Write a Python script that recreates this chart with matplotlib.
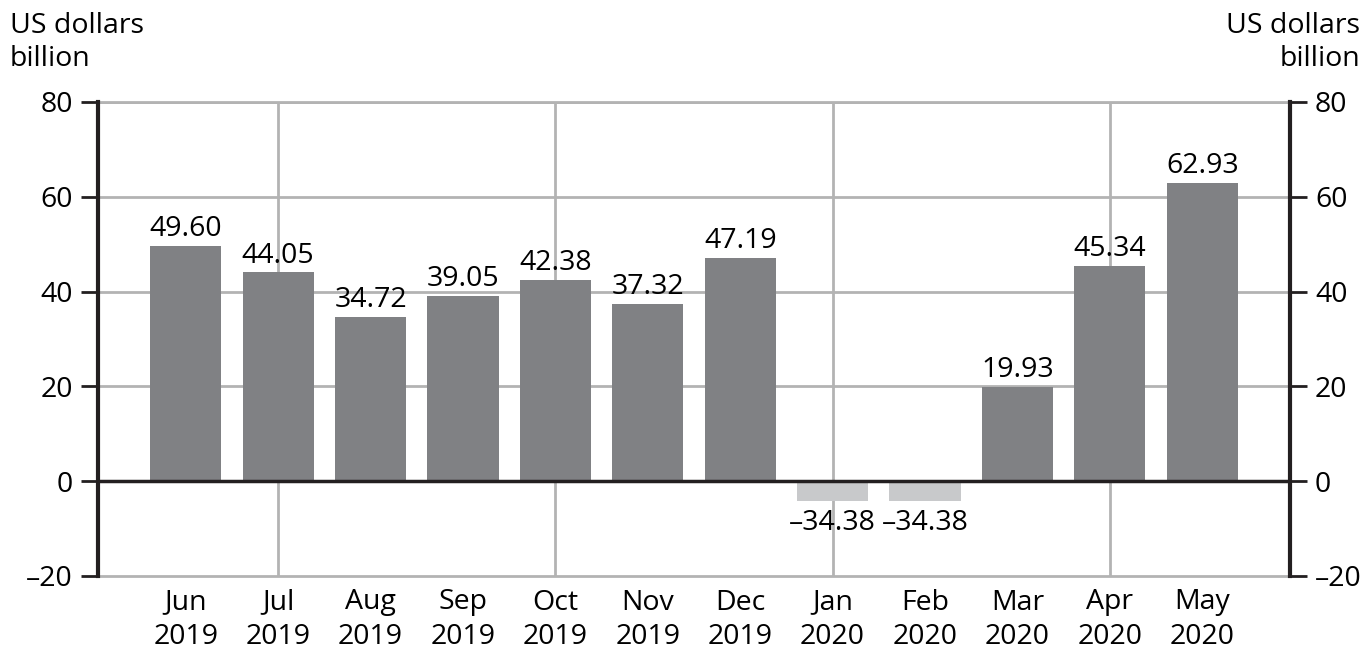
import matplotlib.pyplot as plt
import numpy as np

plt.rcParams['font.family'] = ['Open Sans', 'DejaVu Sans']

months = ['Jun\n2019', 'Jul\n2019', 'Aug\n2019', 'Sep\n2019', 'Oct\n2019', 'Nov\n2019',
          'Dec\n2019', 'Jan\n2020', 'Feb\n2020', 'Mar\n2020', 'Apr\n2020', 'May\n2020']
values = [49.60, 44.05, 34.72, 39.05, 42.38, 37.32, 47.19, -34.38, -34.38, 19.93, 45.34, 62.93]
# the chart truncates the two negative bars
bar_heights = [49.60, 44.05, 34.72, 39.05, 42.38, 37.32, 47.19, -4.2, -4.2, 19.93, 45.34, 62.93]
yticks = [-20, 0, 20, 40, 60, 80]

dark = '#808184'
light = '#c8c9cb'
grid = '#b3b3b3'
fs = 20.5

fig = plt.figure(figsize=(13.67, 6.49), dpi=100)
ax = fig.add_axes([98 / 1367, 1 - 576 / 649, (1290 - 98) / 1367, (576 - 102) / 649])

x = np.arange(len(months))
colors = [dark if v > 0 else light for v in values]
ax.bar(x, bar_heights, width=0.77, color=colors, zorder=3)

for xi, h, v in zip(x, bar_heights, values):
    lab = '%.2f' % v
    lab = lab.replace('-', '\u2013')
    if h >= 0:
        ax.text(xi, h + 0.6, lab, ha='center', va='bottom', fontsize=fs, zorder=4)
    else:
        ax.text(xi, h - 1.6, lab, ha='center', va='top', fontsize=fs, zorder=4)

ax.set_xlim(-0.95, len(months) - 0.05)
ax.set_ylim(-20, 80)

# gridlines
for yv in [20, 40, 60, 80]:
    ax.axhline(yv, color=grid, lw=2, zorder=1)
for xv in [1, 4, 7, 10]:
    ax.axvline(xv, color=grid, lw=2, zorder=1)
ax.axhline(0, color='#231f20', lw=2.5, zorder=5)

for s in ['top', 'bottom']:
    ax.spines[s].set_color(grid)
    ax.spines[s].set_linewidth(2)
for s in ['left', 'right']:
    ax.spines[s].set_color('#231f20')
    ax.spines[s].set_linewidth(3)
    ax.spines[s].set_zorder(6)

ax.set_yticks(yticks)
ax.set_yticklabels([str(t).replace('-', '\u2013') for t in yticks])
ax.tick_params(axis='y', which='both', direction='out', length=12, width=2,
               labelsize=fs, left=True, right=True, labelleft=True, labelright=True,
               color='#231f20', pad=6)
ax.set_xticks(x)
ax.set_xticklabels(months, linespacing=1.3)
ax.tick_params(axis='x', length=0, labelsize=fs, pad=9)

fig.text(10 / 1367, 1 - 12 / 649, 'US dollars\nbillion', ha='left', va='top', fontsize=fs,
         linespacing=1.25)
fig.text(1360 / 1367, 1 - 12 / 649, 'US dollars\nbillion', ha='right', va='top', fontsize=fs,
         linespacing=1.25, multialignment='right')

fig.savefig('out.png', dpi=100)
